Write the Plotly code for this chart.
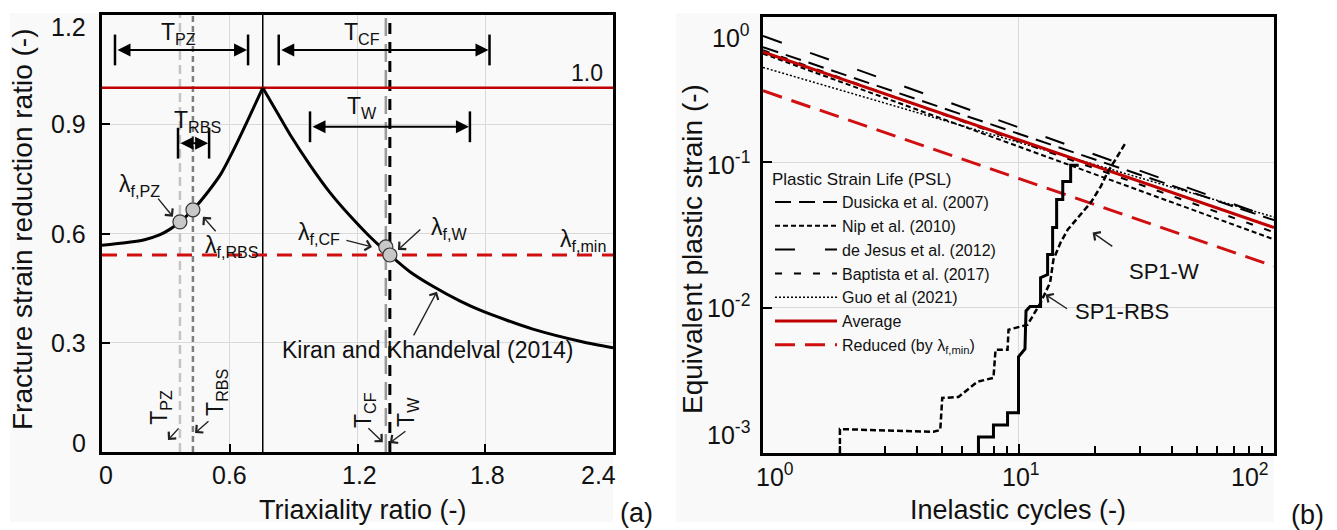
import plotly.graph_objects as go

W, H = 1337, 530
FONT = "Liberation Sans, Arial, sans-serif"
INK = "#111111"
RED = "#c00000"

# ---------------- Panel (a) data ----------------
triax = [0.0, 0.1, 0.2, 0.27, 0.32, 0.366, 0.427, 0.5, 0.56, 0.615, 0.68, 0.755,
         0.82, 0.883, 0.977, 1.07, 1.17, 1.25, 1.352, 1.446, 1.554, 1.68, 1.79, 2.02, 2.26, 2.4]
fsr = [0.568, 0.574, 0.583, 0.596, 0.612, 0.632, 0.665, 0.716, 0.765, 0.826, 0.905, 1.0,
       0.935, 0.872, 0.788, 0.713, 0.645, 0.596, 0.541, 0.495, 0.455, 0.415, 0.386, 0.338, 0.302, 0.286]
peak_T = 0.755
T_lines = {"PZ": 0.366, "RBS": 0.427, "CF": 1.333, "W": 1.352}
lam_pts_T = [0.366, 0.427, 1.333, 1.352]
lam_pts_val = [0.632, 0.665, 0.563, 0.541]
lam_unity = 1.0
lam_min = 0.541
range_PZ = [0.061, 0.686]
range_CF = [0.83, 1.82]
range_RBS = [0.357, 0.503]
range_W = [0.977, 1.728]
level_PZ, level_CF, level_RBS, level_W = 1.104, 1.104, 0.848, 0.893
xa_ticks = [0, 0.6, 1.2, 1.8, 2.4]
ya_ticks = [0, 0.3, 0.6, 0.9, 1.2]

# ---------------- Panel (b) data ----------------
cyc_ends = [1, 100]
psl_dusicka = [0.62, 0.040]
psl_nip = [0.56, 0.0295]
psl_dejesus = [0.74, 0.041]
psl_baptista = [0.59, 0.033]
psl_guo = [0.45, 0.042]
psl_average = [0.575, 0.0356]
psl_reduced = [0.311, 0.0193]

rbs_cyc = [6.97, 6.97, 7.98, 7.98, 9.06, 9.06, 10.0, 10.0, 10.6, 10.7, 11.1, 12.2, 12.2, 13.0,
           13.0, 13.6, 13.6, 14.1, 14.1, 14.9, 14.9, 16.0, 16.0, 17.2]
rbs_eps = [1.0e-3, 1.29e-3, 1.29e-3, 1.56e-3, 1.56e-3, 1.89e-3, 1.89e-3, 4.6e-3, 5.2e-3, 9.5e-3,
           0.0102, 0.0102, 0.0161, 0.0169, 0.0232, 0.0232, 0.0356, 0.0356, 0.0556, 0.0556,
           0.0739, 0.0739, 0.0953, 0.0953]
w_cyc = [2.0, 2.0, 4.64, 4.94, 5.03, 5.82, 6.9, 7.98, 8.13, 9.06, 9.14, 10.85, 12.2, 13.3,
         13.7, 14.6, 15.6, 19.2, 21.0, 22.3, 24.0, 26.3]
w_eps = [1.0e-3, 1.46e-3, 1.40e-3, 1.44e-3, 2.39e-3, 2.43e-3, 3.09e-3, 3.29e-3, 5.13e-3, 5.13e-3,
         7.05e-3, 7.63e-3, 0.0108, 0.0149, 0.0214, 0.028, 0.0345, 0.053, 0.0683, 0.0853, 0.105, 0.137]
xb_ticks = [0, 1, 2]          # log10 of cycles
yb_ticks = [-3, -2, -1, 0]    # log10 of strain

fig = go.Figure()

# ---------- panel (a) traces ----------
def a_line(x, y, color, width, dash="solid"):
    fig.add_trace(go.Scatter(x=x, y=y, mode="lines", xaxis="x", yaxis="y", showlegend=False,
                             line=dict(color=color, width=width, dash=dash), hoverinfo="skip"))

a_line([T_lines["PZ"]] * 2, [0, 1.2], "#c4c4c4", 2.5, "9px,5px")
a_line([T_lines["RBS"]] * 2, [0, 1.2], "#7f7f7f", 2.5, "6px,4px")
a_line([peak_T] * 2, [0, 1.2], "black", 1.5)
a_line([T_lines["CF"]] * 2, [0, 1.2], "#9a9a9a", 2.5, "18px,8px")
a_line([T_lines["W"]] * 2, [0, 1.2], "black", 3, "11px,8px")
a_line([0, 2.4], [lam_unity] * 2, RED, 2.5)
a_line([0, 2.4], [lam_min] * 2, "#d01010", 3, "15px,10px")

ip = triax.index(peak_T)
fig.add_trace(go.Scatter(x=triax[:ip + 1], y=fsr[:ip + 1], mode="lines", xaxis="x", yaxis="y",
                         showlegend=False, line=dict(color="black", width=3, shape="spline", smoothing=0.6)))
fig.add_trace(go.Scatter(x=triax[ip:], y=fsr[ip:], mode="lines", xaxis="x", yaxis="y",
                         showlegend=False, line=dict(color="black", width=3, shape="spline", smoothing=0.6)))
fig.add_trace(go.Scatter(x=lam_pts_T, y=lam_pts_val, mode="markers", xaxis="x", yaxis="y", showlegend=False,
                         marker=dict(size=14, color="#c8c8c8", line=dict(color="#333333", width=1.2))))

annotations = []

# dimension arrows with end bars
for rng, lvl in [(range_PZ, level_PZ), (range_CF, level_CF), (range_RBS, level_RBS), (range_W, level_W)]:
    fig.add_trace(go.Scatter(x=rng, y=[lvl, lvl], mode="markers", xaxis="x", yaxis="y", showlegend=False,
                             marker=dict(symbol="line-ns", size=22, line=dict(color="black", width=2.5))))
    annotations.append(dict(x=rng[1], y=lvl, ax=rng[0], ay=lvl, xref="x", yref="y", axref="x", ayref="y",
                            text="", showarrow=True, arrowside="end+start", arrowhead=2, startarrowhead=2,
                            arrowsize=1.3, startarrowsize=1.3, arrowwidth=2, arrowcolor="black",
                            standoff=1, startstandoff=1))

def txt(x, y, s, size=23, xref="x", yref="y", angle=0, xanchor="center", xshift=0, yshift=0):
    annotations.append(dict(x=x, y=y, xref=xref, yref=yref, text=s, showarrow=False, textangle=angle,
                            xanchor=xanchor, yanchor="middle", xshift=xshift, yshift=yshift,
                            font=dict(size=size, color=INK, family=FONT)))

def ptr(hx, hy, tx, ty, xref="x", yref="y"):
    annotations.append(dict(x=hx, y=hy, ax=tx, ay=ty, xref=xref, yref=yref, axref=xref, ayref=yref,
                            text="", showarrow=True, arrowhead=4, arrowsize=1.4, arrowwidth=1.4,
                            arrowcolor="#222222", standoff=0))

txt(0.36, 1.15, "T<sub>PZ</sub>")
txt(1.22, 1.15, "T<sub>CF</sub>")
txt(0.45, 0.907, "T<sub>RBS</sub>")
txt(1.22, 0.945, "T<sub>W</sub>")
txt(2.28, 1.04, "1.0")
txt(2.26, 0.582, "λ<sub>f,min</sub>")
txt(0.178, 0.733, "λ<sub>f,PZ</sub>")
txt(0.61, 0.563, "λ<sub>f,RBS</sub>")
txt(1.02, 0.60, "λ<sub>f,CF</sub>")
txt(1.63, 0.615, "λ<sub>f,W</sub>")
txt(1.53, 0.28, "Kiran and Khandelval (2014)")
txt(0.277, 0.124, "T<sub>PZ</sub>", angle=-90)
txt(0.54, 0.165, "T<sub>RBS</sub>", angle=-90)
txt(1.23, 0.115, "T<sub>CF</sub>", angle=-90)
txt(1.437, 0.11, "T<sub>W</sub>", angle=-90)

ptr(0.333, 0.646, 0.258, 0.70)
ptr(0.474, 0.646, 0.54, 0.602)
ptr(1.268, 0.563, 1.141, 0.582)
ptr(1.39, 0.555, 1.502, 0.615)
ptr(1.573, 0.44, 1.46, 0.316)
ptr(0.31, 0.033, 0.366, 0.069)
ptr(0.437, 0.052, 0.507, 0.088)
ptr(1.319, 0.027, 1.244, 0.069)
ptr(1.352, 0.025, 1.432, 0.06)

# tick labels panel (a)
for v, sh in zip(xa_ticks, [4, 0, 2, 2, -15]):
    txt(v, 1 - 475 / H, f"{v:g}", size=25, yref="paper", xshift=sh)
for v, sh in zip(ya_ticks, [9, 0, 0, 0, -12]):
    txt(88 / W, v, f"{v:g}", size=25, xref="paper", xanchor="right", yshift=sh)

# ---------- panel (b) traces ----------
def b_line(name, y, color, width, dash):
    fig.add_trace(go.Scatter(x=cyc_ends, y=y, mode="lines", name=name, xaxis="x2", yaxis="y2",
                             line=dict(color=color, width=width, dash=dash)))

b_line("Dusicka et al. (2007)", psl_dusicka, "black", 2, "16px,8px")
b_line("Nip et al. (2010)", psl_nip, "black", 2, "5px,3px")
b_line("de Jesus et al. (2012)", psl_dejesus, "black", 2, "20px,30px")
b_line("Baptista et al. (2017)", psl_baptista, "black", 2, "7px,12px")
b_line("Guo et al (2021)", psl_guo, "black", 1.5, "2px,2px")
b_line("Average", psl_average, RED, 3, "solid")
b_line("Reduced (by λ<sub>f,min</sub>)", psl_reduced, "#d01010", 3, "20px,10px")

fig.add_trace(go.Scatter(x=rbs_cyc, y=rbs_eps, mode="lines", xaxis="x2", yaxis="y2", showlegend=False,
                         line=dict(color="black", width=3)))
fig.add_trace(go.Scatter(x=w_cyc, y=w_eps, mode="lines", xaxis="x2", yaxis="y2", showlegend=False,
                         line=dict(color="black", width=2.5, dash="6px,3px")))

txt(1.569, -1.752, "SP1-W", size=22, xref="x2", yref="y2")
ptr(1.29, -1.483, 1.373, -1.586, xref="x2", yref="y2")
txt(1.404, -2.028, "SP1-RBS", size=22, xref="x2", yref="y2")
ptr(1.106, -1.91, 1.196, -2.014, xref="x2", yref="y2")

for v, sh in zip(xb_ticks, [12, 2, -24]):
    txt(v, 1 - 475 / H, f"10<sup>{v}</sup>", size=25, xref="x2", yref="paper", xshift=sh)
for v, sh in zip(yb_ticks, [20, 2, -1, -19]):
    txt(752 / W, v, f"10<sup>{v}</sup>", size=25, xref="paper", yref="y2", xanchor="right", yshift=sh)

# axis titles and panel tags
txt(22 / W, 1 - 230 / H, "Fracture strain reduction ratio (-)", size=28, xref="paper", yref="paper", angle=-90)
txt(363 / W, 1 - 510 / H, "Triaxiality ratio (-)", size=27, xref="paper", yref="paper")
txt(692 / W, 1 - 249 / H, "Equivalent plastic strain (-)", size=28, xref="paper", yref="paper", angle=-90)
txt(1018 / W, 1 - 510 / H, "Inelastic cycles (-)", size=27, xref="paper", yref="paper")
txt(636 / W, 1 - 513 / H, "(a)", size=27, xref="paper", yref="paper")
txt(1307 / W, 1 - 515 / H, "(b)", size=27, xref="paper", yref="paper")

axis_common = dict(showline=True, linecolor="black", linewidth=2.5, mirror=True, ticks="inside",
                   tickcolor="black", tickwidth=2, showticklabels=False, zeroline=False,
                   gridcolor="#d9d9d9", gridwidth=1, showgrid=True)

fig.update_layout(
    width=W, height=H, margin=dict(l=0, r=0, t=0, b=0),
    paper_bgcolor="white", plot_bgcolor="#f9f9f9",
    font=dict(family=FONT, color=INK),
    shapes=[
        dict(type="rect", xref="paper", yref="paper", x0=10 / W, x1=613 / W, y0=1 - 522 / H, y1=1 - 13 / H,
             fillcolor="#f9f9f9", line=dict(width=0), layer="below"),
        dict(type="rect", xref="paper", yref="paper", x0=676 / W, x1=1274 / W, y0=1 - 522 / H, y1=1 - 13 / H,
             fillcolor="#f9f9f9", line=dict(width=0), layer="below"),
    ],
    xaxis=dict(domain=[102 / W, 613 / W], range=[0, 2.4], tickvals=xa_ticks, ticklen=8, anchor="y",
               **axis_common),
    yaxis=dict(domain=[1 - 452 / H, 1 - 15 / H], range=[0, 1.2], tickvals=ya_ticks, ticklen=8, anchor="x",
               **axis_common),
    xaxis2=dict(domain=[763 / W, 1274 / W], type="log", range=[0, 2.0], tickvals=[1, 10, 100], ticklen=9,
                anchor="y2",
                minor=dict(ticks="inside", ticklen=7, tickwidth=1.5, tickcolor="black", showgrid=False,
                           tickvals=[2, 3, 4, 5, 6, 7, 8, 9, 20, 30, 40, 50, 60, 70, 80, 90]),
                **axis_common),
    yaxis2=dict(domain=[1 - 453 / H, 1 - 17 / H], type="log", range=[-3, 0], tickvals=[0.001, 0.01, 0.1, 1],
                ticklen=9, anchor="x2", **axis_common),
    legend=dict(x=770 / W, y=1 - 163 / H, xanchor="left", yanchor="top", bgcolor="rgba(0,0,0,0)",
                borderwidth=0, font=dict(size=16, family=FONT, color=INK), itemwidth=62,
                title=dict(text="Plastic Strain Life (PSL)", font=dict(size=17, family=FONT, color=INK)),
                tracegroupgap=0),
    annotations=annotations,
)

fig.write_html("out.html")
